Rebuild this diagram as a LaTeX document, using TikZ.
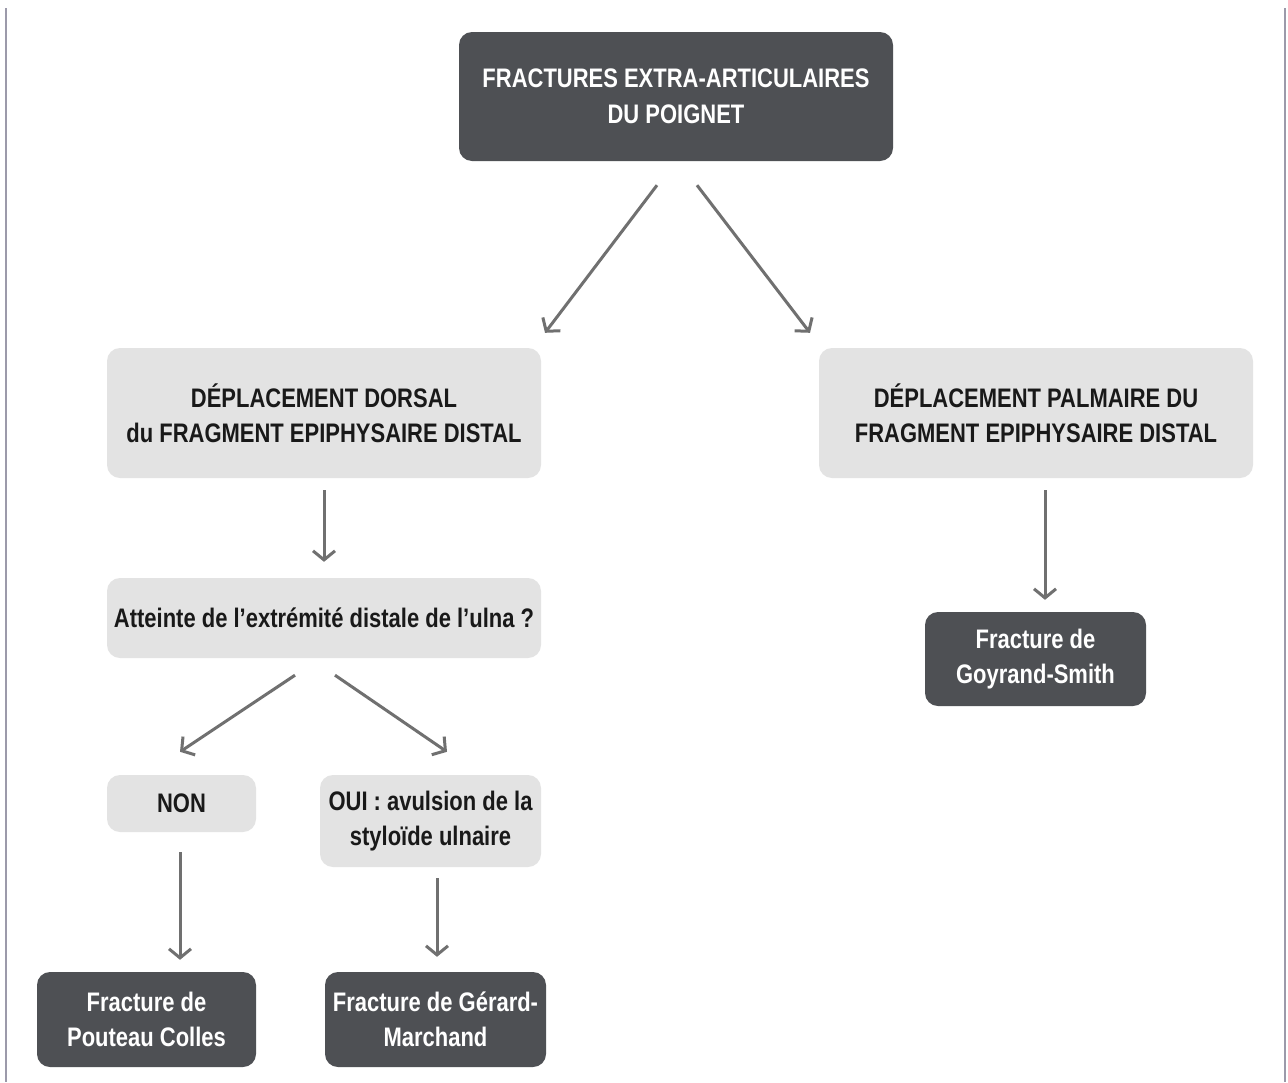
\documentclass[tikz,border=0pt]{standalone}
\usepackage{fontspec}
\setmainfont[FakeStretch=0.82]{Liberation Sans}
\usetikzlibrary{arrows.meta}
\definecolor{darkbox}{HTML}{4E5054}
\definecolor{lightbox}{HTML}{E3E3E3}
\definecolor{arrowgray}{HTML}{707070}
\definecolor{framegray}{HTML}{9C9AAA}
\begin{document}
\begin{tikzpicture}[x=1pt,y=-1pt,
  darknode/.style={draw=none, fill=darkbox, rounded corners=13pt, text=white,
    font=\fontsize{26.8}{35.5}\selectfont\bfseries, align=center, inner sep=0pt},
  lightnode/.style={draw=none, fill=lightbox, rounded corners=13pt, text=black!90,
    font=\fontsize{26.8}{35.5}\selectfont\bfseries, align=center, inner sep=0pt},
  arr/.style={draw=arrowgray, line width=3pt,
    -{Straight Barb[length=9pt,width=22pt,line width=3pt]}}]
\useasboundingbox (0,0) rectangle (1288,1082);
\fill[white] (0,0) rectangle (1288,1082);
\draw[framegray, line width=2.5pt] (6,8) -- (6,1082);
\draw[framegray, line width=2pt] (1285,8) -- (1285,1082);

\node[darknode, minimum width=434pt, minimum height=129pt] (top) at (676,96.5)
  {FRACTURES EXTRA-ARTICULAIRES\\DU POIGNET};
\node[lightnode, minimum width=434pt, minimum height=130pt] (dors) at (324,413)
  {DÉPLACEMENT DORSAL\\du FRAGMENT EPIPHYSAIRE DISTAL};
\node[lightnode, minimum width=434pt, minimum height=130pt] (palm) at (1036,413)
  {DÉPLACEMENT PALMAIRE DU\\FRAGMENT EPIPHYSAIRE DISTAL};
\node[lightnode, minimum width=434pt, minimum height=80pt] (att) at (324,618)
  {Atteinte de l’extrémité distale de l’ulna ?};
\node[lightnode, minimum width=149pt, minimum height=57pt] (non) at (181.5,803.5)
  {NON};
\node[lightnode, minimum width=221pt, minimum height=92pt] (oui) at (430.5,821)
  {OUI : avulsion de la\\styloïde ulnaire};
\node[darknode, minimum width=219pt, minimum height=95pt] (pout) at (146.5,1019.5)
  {Fracture de\\Pouteau Colles};
\node[darknode, minimum width=221pt, minimum height=95pt] (gera) at (435.5,1019.5)
  {Fracture de Gérard-\\Marchand};
\node[darknode, minimum width=221pt, minimum height=94pt] (goy) at (1035.5,659)
  {Fracture de\\Goyrand-Smith};

\draw[arr] ([xshift=-19pt,yshift=-24pt]top.south) -- ([xshift=221pt,yshift=15pt]dors.north);
\draw[arr] ([xshift=21pt,yshift=-24pt]top.south) -- ([xshift=-226pt,yshift=15pt]palm.north);
\draw[arr] ([yshift=-12pt]dors.south) -- ([yshift=16pt]att.north);
\draw[arr] ([xshift=9pt,yshift=-12pt]palm.south) -- ([xshift=9.5pt,yshift=12pt]goy.north);
\draw[arr] ([xshift=-29pt,yshift=-17pt]att.south) -- ([xshift=-1.5pt,yshift=23pt]non.north);
\draw[arr] ([xshift=11pt,yshift=-17pt]att.south) -- ([xshift=16.5pt,yshift=23pt]oui.north);
\draw[arr] ([xshift=-1.5pt,yshift=-20pt]non.south) -- ([xshift=33.5pt,yshift=12pt]pout.north);
\draw[arr] ([xshift=6.5pt,yshift=-11pt]oui.south) -- ([xshift=1.5pt,yshift=15pt]gera.north);
\end{tikzpicture}
\end{document}
